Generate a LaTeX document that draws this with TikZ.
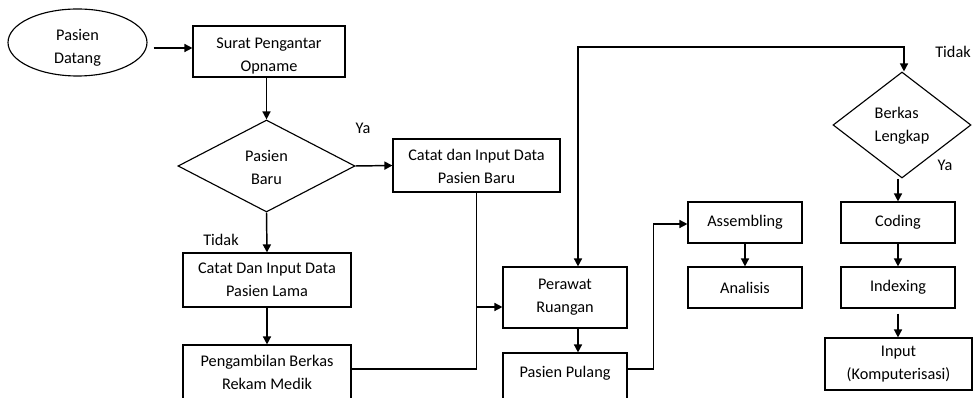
\documentclass[tikz,border=0pt]{standalone}
\usepackage{fontspec}
\setmainfont{Carlito}
\usetikzlibrary{shapes.geometric,arrows.meta}
\newcommand\lowered[2]{\raisebox{-#1}[\height][\depth]{\begin{tabular}{@{}c@{}}#2\end{tabular}}}
\begin{document}
\begin{tikzpicture}[x=0.75pt,y=-0.75pt,
  txt/.style={font=\fontsize{12.2}{17.2}\selectfont},
  box/.style={txt, draw, line width=0.85pt, rectangle, inner sep=0pt, align=center},
  oval/.style={txt, draw, line width=0.85pt, ellipse, inner sep=0pt, align=center},
  decision/.style={txt, draw, line width=0.85pt, diamond, inner sep=0pt, align=center},
  lbl/.style={txt, inner sep=0pt},
  line/.style={line width=1.1pt},
  arr/.style={line width=1.1pt, -{Triangle[length=6pt,width=6pt]}},
  arr2/.style={line width=1.1pt, {Triangle[length=6pt,width=6pt]}-{Triangle[length=6pt,width=6pt]}}]
\useasboundingbox (0,0) rectangle (974,398);
\clip (0,0) rectangle (974,398);

% start and admission
\node[oval, minimum width=104.25pt, minimum height=50.25pt] (pd) at (77.5,42.5) {\lowered{4pt}{Pasien\\Datang}};
\node[box, minimum width=114pt, minimum height=38.25pt] (sp) at (269,51.5) {\lowered{3pt}{Surat Pengantar\\Opname}};
\node[decision, minimum width=132.75pt, minimum height=69pt] (pb) at (266.5,166) {\lowered{2pt}{Pasien\\Baru}};
\node[box, minimum width=125.25pt, minimum height=39.75pt] (cb) at (476.5,165.5) {\lowered{1.5pt}{Catat dan Input Data\\Pasien Baru}};
\node[box, minimum width=126pt, minimum height=40.5pt] (cl) at (267,280) {Catat Dan Input Data\\Pasien Lama};
\node[box, minimum width=126pt, minimum height=41.25pt] (rm) at (267,372.5) {Pengambilan Berkas\\Rekam Medik};

% ward
\node[box, minimum width=93pt, minimum height=45.75pt] (pr) at (565,297.5) {Perawat\\Ruangan};
\node[box, minimum width=93pt, minimum height=35.25pt] (pp) at (565,376.5) {\lowered{6pt}{Pasien Pulang\\\strut}};

% record processing
\node[box, minimum width=85.5pt, minimum height=30.75pt] (as) at (745,222.5) {Assembling};
\node[box, minimum width=85.5pt, minimum height=30.75pt] (an) at (745,287.5) {Analisis};
\node[decision, minimum width=103.5pt, minimum height=79.5pt] (bk) at (902,125) {\begin{tabular}{@{}l@{}}Berkas\\Lengkap\end{tabular}};
\node[box, minimum width=85.5pt, minimum height=30.75pt] (cd) at (898,222.5) {Coding};
\node[box, minimum width=85.5pt, minimum height=30.75pt] (ix) at (898,287.5) {Indexing};
\node[box, minimum width=110.25pt, minimum height=39pt] (in) at (898.5,364) {Input\\(Komputerisasi)};

% branch labels
\node[lbl] (ya1) at (363,128) {Ya};
\node[lbl] (td1) at (221,240) {Tidak};
\node[lbl] (td2) at (953,52) {Tidak};
\node[lbl] (ya2) at (945,165) {Ya};

\coordinate (top) at (578,47);

% connectors
\draw[arr] ([shift={(6,5.5)}]pd.east) -- ([shift={(0,-3.5)}]sp.west);
\draw[arr] (pb.north |- sp.south) -- (pb.north);
\draw[arr] (pb.east) -- (cb.west);
\draw[arr] (pb.south) -- (cl.north);
\draw[arr] (cl.south) -- (rm.north);
\draw[line] ([shift={(0,-3.5)}]rm.east) -| (cb.south);
\draw[arr] ([shift={(0,9.5)}]cb.south |- pr.west) -- ([shift={(0,9.5)}]pr.west);
\draw[arr2] (pr.north -| top) -- (top) -| ([xshift=1.5pt]bk.north);
\draw[arr] (pr.south -| top) -- (pp.north -| top);
\draw[arr] ([shift={(0,-7.5)}]pp.east) -- ++(26,0) |- ([shift={(0,1.5)}]as.west);
\draw[arr] (as.south) -- (an.north);
\draw[arr] (cd.north |- bk.south) -- (cd.north);
\draw[arr] (cd.south) -- (ix.north);
\draw[arr] ([shift={(0,5)}]ix.south) -- (ix.south |- in.north);
\end{tikzpicture}
\end{document}
